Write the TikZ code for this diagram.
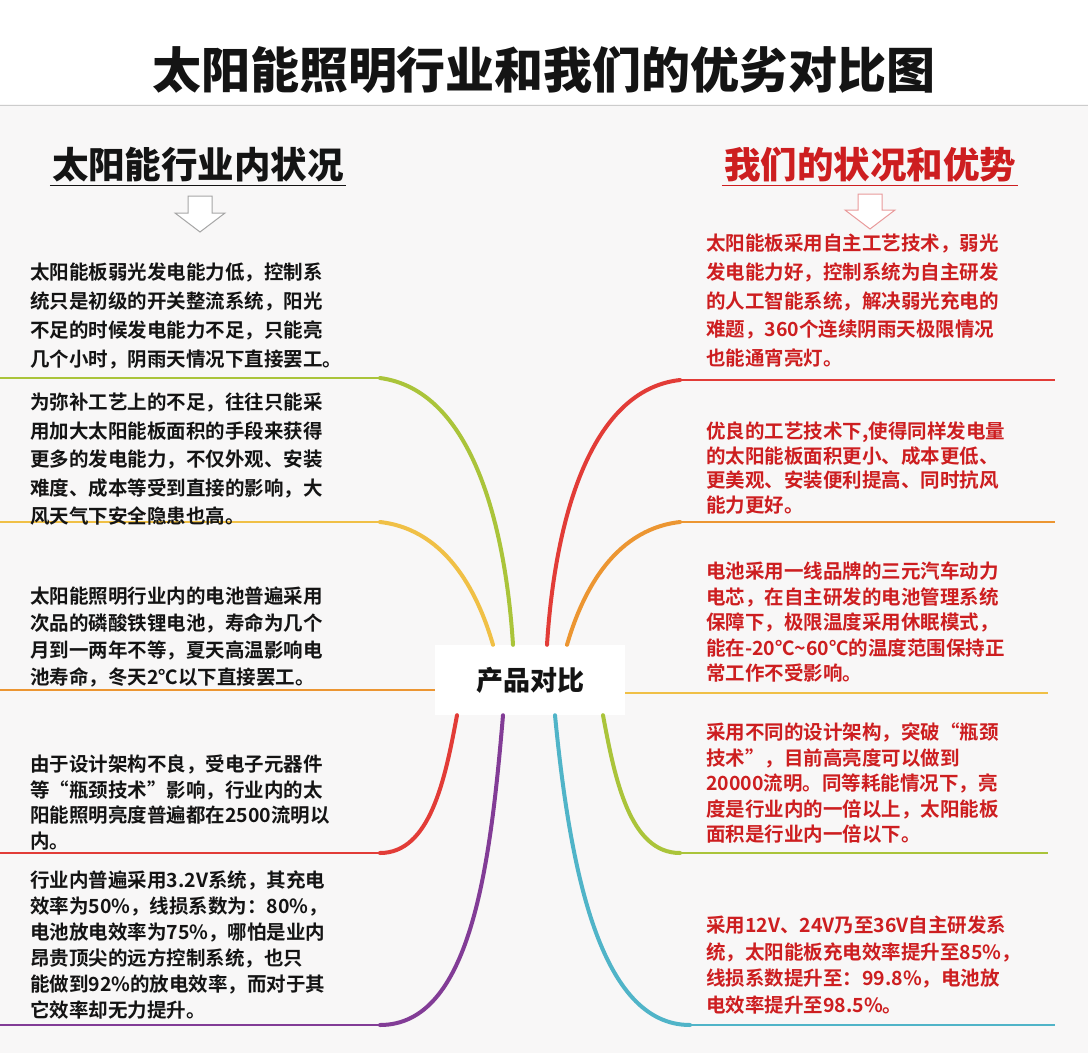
\documentclass[tikz,border=0pt]{standalone}
\usepackage{fontspec}
\setmainfont{Noto Sans CJK SC Bold}
\newfontfamily\cjkb{Noto Sans CJK SC Black}
\definecolor{bg}{RGB}{248,247,247}
\definecolor{myred}{RGB}{205,30,32}
\definecolor{cgreen}{RGB}{170,196,58}
\definecolor{cyellow}{RGB}{240,192,70}
\definecolor{corange}{RGB}{236,150,50}
\definecolor{cred}{RGB}{226,60,55}
\definecolor{cpurple}{RGB}{130,60,150}
\definecolor{cteal}{RGB}{80,180,200}
\definecolor{txt}{RGB}{20,20,20}
\begin{document}
\begin{tikzpicture}[x=1pt,y=-1pt,
  lblock/.style={anchor=north west,align=left,inner sep=0pt,text=txt,font=\fontsize{19.5}{#1}\selectfont},
  rblock/.style={anchor=north west,align=left,inner sep=0pt,text=myred,font=\fontsize{19.5}{#1}\selectfont},
  branch/.style={line width=4pt,line cap=round},
  hline/.style={line width=1.6pt}]
\fill[bg] (0,0) rectangle (1088,1053);
\fill[white] (0,0) rectangle (1088,104);
\useasboundingbox (0,0) rectangle (1088,1053);
\draw[gray!40,line width=1pt] (0,105) -- (1088,105);
\node[font=\cjkb\fontsize{49}{54}\selectfont,text=txt] (title) at (544,70) {太阳能照明行业和我们的优劣对比图};
% headings
\node[font=\cjkb\fontsize{36.5}{40}\selectfont,text=txt,inner sep=2pt] (lh) at (198,165) {太阳能行业内状况};
\draw[line width=1.6pt,txt] ([yshift=-1pt]lh.south west) -- ([yshift=-1pt]lh.south east);
\node[font=\cjkb\fontsize{36.5}{40}\selectfont,text=myred,inner sep=2pt] (rh) at (870,165) {我们的状况和优势};
\draw[line width=1.6pt,myred] ([yshift=-1pt]rh.south west) -- ([yshift=-1pt]rh.south east);
% down arrows
\draw[gray!70,line width=1pt,fill=white] (188,196)--(212,196)--(212,213)--(225,213)--(200,232)--(175,213)--(188,213)--cycle;
\draw[myred!45,line width=1pt,fill=white] (858,194)--(882,194)--(882,210)--(895,210)--(870,229)--(845,210)--(858,210)--cycle;
% center
\node[fill=white,minimum width=190pt,minimum height=70pt,inner sep=0pt,font=\cjkb\fontsize{27}{30}\selectfont,text=txt] (c) at (530,680) {产品对比};
\coordinate (L1) at (380,378); \coordinate (L2) at (380,522);
\coordinate (L4) at (380,853); \coordinate (L5) at (380,1025);
\coordinate (R1) at (680,380); \coordinate (R2) at (680,522);
\coordinate (R4) at (680,853); \coordinate (R5) at (690,1025);
\coordinate (cw) at (c.west|-0,690); \coordinate (ce) at (c.east|-0,693);
% left branches
\draw[hline,cgreen] (0,378) -- (L1);
\draw[branch,cgreen] (L1) .. controls (470,390) and (505,520) .. ([xshift=-17pt]c.north);
\draw[hline,cyellow] (0,522) -- (L2);
\draw[branch,cyellow] (L2) .. controls (450,530) and (480,600) .. ([xshift=-37pt]c.north);
\draw[hline,corange] (0,690) -- (cw);
\draw[branch,cred] ([xshift=-73pt]c.south) .. controls (445,780) and (430,853) .. (L4);
\draw[hline,cred] (L4) -- (0,853);
\draw[branch,cpurple] ([xshift=-27pt]c.south) .. controls (490,870) and (470,1025) .. (L5);
\draw[hline,cpurple] (L5) -- (0,1025);
% right branches
\draw[branch,cred] ([xshift=17pt]c.north) .. controls (555,520) and (590,390) .. (R1);
\draw[hline,cred] (R1) -- (1055,380);
\draw[branch,corange] ([xshift=37pt]c.north) .. controls (580,600) and (610,530) .. (R2);
\draw[hline,corange] (R2) -- (1055,522);
\draw[hline,cyellow] (ce) -- (1048,693);
\draw[branch,cgreen] ([xshift=73pt]c.south) .. controls (615,780) and (630,853) .. (R4);
\draw[hline,cgreen] (R4) -- (1048,853);
\draw[branch,cteal] ([xshift=25pt]c.south) .. controls (570,870) and (600,1025) .. (R5);
\draw[hline,cteal] (R5) -- (1055,1025);
% left texts
\node[lblock=29] (t1) at (30,263) {太阳能板弱光发电能力低，控制系\\统只是初级的开关整流系统，阳光\\不足的时候发电能力不足，只能亮\\几个小时，阴雨天情况下直接罢工。};
\node[lblock=28.5] (t2) at (30,393) {为弥补工艺上的不足，往往只能采\\用加大太阳能板面积的手段来获得\\更多的发电能力，不仅外观、安装\\难度、成本等受到直接的影响，大\\风天气下安全隐患也高。};
\node[lblock=27] (t3) at (30,587) {太阳能照明行业内的电池普遍采用\\次品的磷酸铁锂电池，寿命为几个\\月到一两年不等，夏天高温影响电\\池寿命，冬天2℃以下直接罢工。};
\node[lblock=25.5] (t4) at (30,755) {由于设计架构不良，受电子元器件\\等“瓶颈技术”影响，行业内的太\\阳能照明亮度普遍都在2500流明以\\内。};
\node[lblock=26] (t5) at (30,871) {行业内普遍采用3.2V系统，其充电\\效率为50\%，线损系数为：80\%，\\电池放电效率为75\%，哪怕是业内\\昂贵顶尖的远方控制系统，也只\\能做到92\%的放电效率，而对于其\\它效率却无力提升。};
% right texts
\node[rblock=28.7] (r1) at (706,234) {太阳能板采用自主工艺技术，弱光\\发电能力好，控制系统为自主研发\\的人工智能系统，解决弱光充电的\\难题，360个连续阴雨天极限情况\\也能通宵亮灯。};
\node[rblock=24.5] (r2) at (706,422) {优良的工艺技术下,使得同样发电量\\的太阳能板面积更小、成本更低、\\更美观、安装便利提高、同时抗风\\能力更好。};
\node[rblock=25.5] (r3) at (706,562) {电池采用一线品牌的三元汽车动力\\电芯，在自主研发的电池管理系统\\保障下，极限温度采用休眠模式，\\能在-20℃\textasciitilde 60℃的温度范围保持正\\常工作不受影响。};
\node[rblock=25.5] (r4) at (706,723) {采用不同的设计架构，突破“瓶颈\\技术”，目前高亮度可以做到\\20000流明。同等耗能情况下，亮\\度是行业内的一倍以上，太阳能板\\面积是行业内一倍以下。};
\node[rblock=26.5] (r5) at (706,916) {采用12V、24V乃至36V自主研发系\\统，太阳能板充电效率提升至85\%，\\线损系数提升至：99.8\%，电池放\\电效率提升至98.5\%。};
\end{tikzpicture}
\end{document}
